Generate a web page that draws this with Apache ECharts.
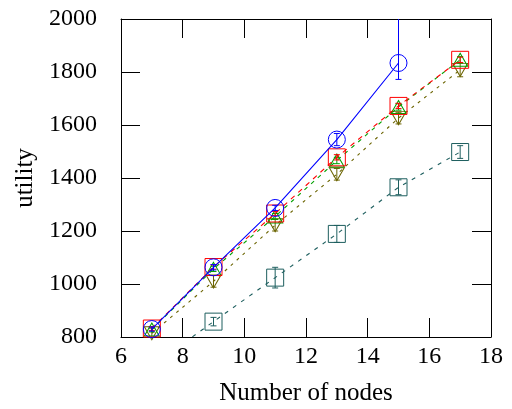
<!DOCTYPE html>
<html><head><meta charset="utf-8">
<script src="https://cdn.jsdelivr.net/npm/echarts@6/dist/echarts.min.js"></script>
<style>html,body{margin:0;padding:0;background:#fff}#c{width:512px;height:409px}</style>
</head><body><div id="c"></div>
<script>
// x positions (number of nodes)
const nodes = [7, 9, 11, 13, 15, 17];
const xTicks = [6, 8, 10, 12, 14, 16, 18];
const yTicks = [800, 1000, 1200, 1400, 1600, 1800, 2000];

// series values and error bounds (low / high)
const blueVals = [830, 1063, 1287, 1545, 1834];
const blueLow  = [822, 1053, 1277, 1522, 1772];
const blueHigh = [838, 1073, 1297, 1568, 2100];

const redVals = [832, 1064, 1266, 1478, 1672, 1846];
const redLow  = [825, 1056, 1258, 1468, 1662, 1836];
const redHigh = [839, 1072, 1274, 1488, 1682, 1856];

const greenVals = [828, 1057, 1255, 1466, 1668, 1846];
const greenLow  = [819, 1047, 1244, 1454, 1656, 1834];
const greenHigh = [837, 1067, 1266, 1478, 1680, 1858];

const oliveVals = [814, 1010, 1222, 1414, 1626, 1808];
const oliveLow  = [795, 988, 1200, 1392, 1604, 1782];
const oliveHigh = [833, 1032, 1244, 1436, 1648, 1834];

const tealVals = [690, 858, 1024, 1189, 1365, 1498];
const tealLow  = [675, 842, 985, 1157, 1337, 1474];
const tealHigh = [705, 874, 1063, 1221, 1393, 1522];

const chart = echarts.init(document.getElementById('c'), null, {renderer: 'canvas'});
const FONT = 'Liberation Serif';

function pairs(vals) { return vals.map((v, i) => [nodes[i], v]); }

function lineSeries(name, vals, color, symbol, size, dash, z) {
  return {
    name, type: 'line', data: pairs(vals), clip: true, z: z,
    symbol, symbolSize: size, showSymbol: true,
    itemStyle: {color: 'rgba(0,0,0,0)', borderColor: color, borderWidth: 1},
    lineStyle: {color, width: 1.1, type: dash},
    emphasis: {disabled: true}, animation: false
  };
}

function errSeries(vals, low, high, color, z) {
  const data = vals.map((v, i) => [nodes[i], low[i], high[i]]);
  return {
    type: 'custom', data, z: z, animation: false, silent: true,
    encode: {x: 0, y: [1, 2]},
    renderItem: function (params, api) {
      const cs = params.coordSys;
      const top = cs.y, bot = cs.y + cs.height;
      const x = api.coord([api.value(0), api.value(1)])[0];
      const yl = api.coord([api.value(0), api.value(1)])[1];
      const yh = api.coord([api.value(0), api.value(2)])[1];
      const y1 = Math.max(top, Math.min(bot, yh));
      const y2 = Math.max(top, Math.min(bot, yl));
      const st = {stroke: color, lineWidth: 1};
      const ch = [{type: 'line', shape: {x1: x, y1: y1, x2: x, y2: y2}, style: st}];
      const w = 3;
      if (yh >= top && yh <= bot) ch.push({type: 'line', shape: {x1: x - w, y1: yh, x2: x + w, y2: yh}, style: st});
      if (yl >= top && yl <= bot) ch.push({type: 'line', shape: {x1: x - w, y1: yl, x2: x + w, y2: yl}, style: st});
      return {type: 'group', children: ch};
    }
  };
}

const BLUE = '#0000ff', RED = '#ff0000', GREEN = '#00a000', OLIVE = '#6b6400', TEAL = '#1d5e5e';
const downTri = 'path://M0,0L10,0L5,9Z';

const axisCommon = {
  min: 6, max: 18, interval: 2, type: 'value',
  axisLine: {show: true, onZero: false, lineStyle: {color: '#000', width: 1}},
  axisTick: {show: true, inside: true, length: 19, lineStyle: {color: '#000', width: 1}},
  splitLine: {show: false}
};

chart.setOption({
  animation: false,
  grid: {left: 121, right: 21, top: 19, bottom: 72, containLabel: false, outerBoundsMode: 'none'},
  xAxis: [
    Object.assign({}, axisCommon, {
      position: 'bottom',
      name: 'Number of nodes', nameLocation: 'middle', nameGap: 44,
      nameTextStyle: {fontFamily: FONT, fontSize: 25, color: '#000'},
      axisLabel: {show: true, margin: 8, fontFamily: FONT, fontSize: 24, color: '#000',
        formatter: v => xTicks.includes(v) ? String(v) : ''}
    }),
    Object.assign({}, axisCommon, {position: 'top', axisLabel: {show: false}})
  ],
  yAxis: [
    Object.assign({}, axisCommon, {
      min: 800, max: 2000, interval: 200, position: 'left',
      name: 'utility', nameLocation: 'middle', nameGap: 82, nameRotate: 90,
      nameTextStyle: {fontFamily: FONT, fontSize: 25, color: '#000'},
      axisLabel: {show: true, margin: 24, fontFamily: FONT, fontSize: 24, color: '#000',
        formatter: v => yTicks.includes(v) ? String(v) : ''}
    }),
    Object.assign({}, axisCommon, {min: 800, max: 2000, interval: 200, position: 'right', axisLabel: {show: false}})
  ],
  series: [
    lineSeries('teal', tealVals, TEAL, 'rect', 17, [4, 6], 2),
    errSeries(tealVals, tealLow, tealHigh, TEAL, 3),
    lineSeries('olive', oliveVals, OLIVE, downTri, [15, 13], [3, 5], 4),
    errSeries(oliveVals, oliveLow, oliveHigh, OLIVE, 5),
    lineSeries('green', greenVals, GREEN, 'triangle', [15, 13], [4, 5], 6),
    errSeries(greenVals, greenLow, greenHigh, GREEN, 7),
    lineSeries('red', redVals, RED, 'rect', 17, [5, 5], 8),
    errSeries(redVals, redLow, redHigh, RED, 9),
    lineSeries('blue', blueVals, BLUE, 'circle', 17, 'solid', 10),
    errSeries(blueVals, blueLow, blueHigh, BLUE, 11)
  ]
});
</script></body></html>
